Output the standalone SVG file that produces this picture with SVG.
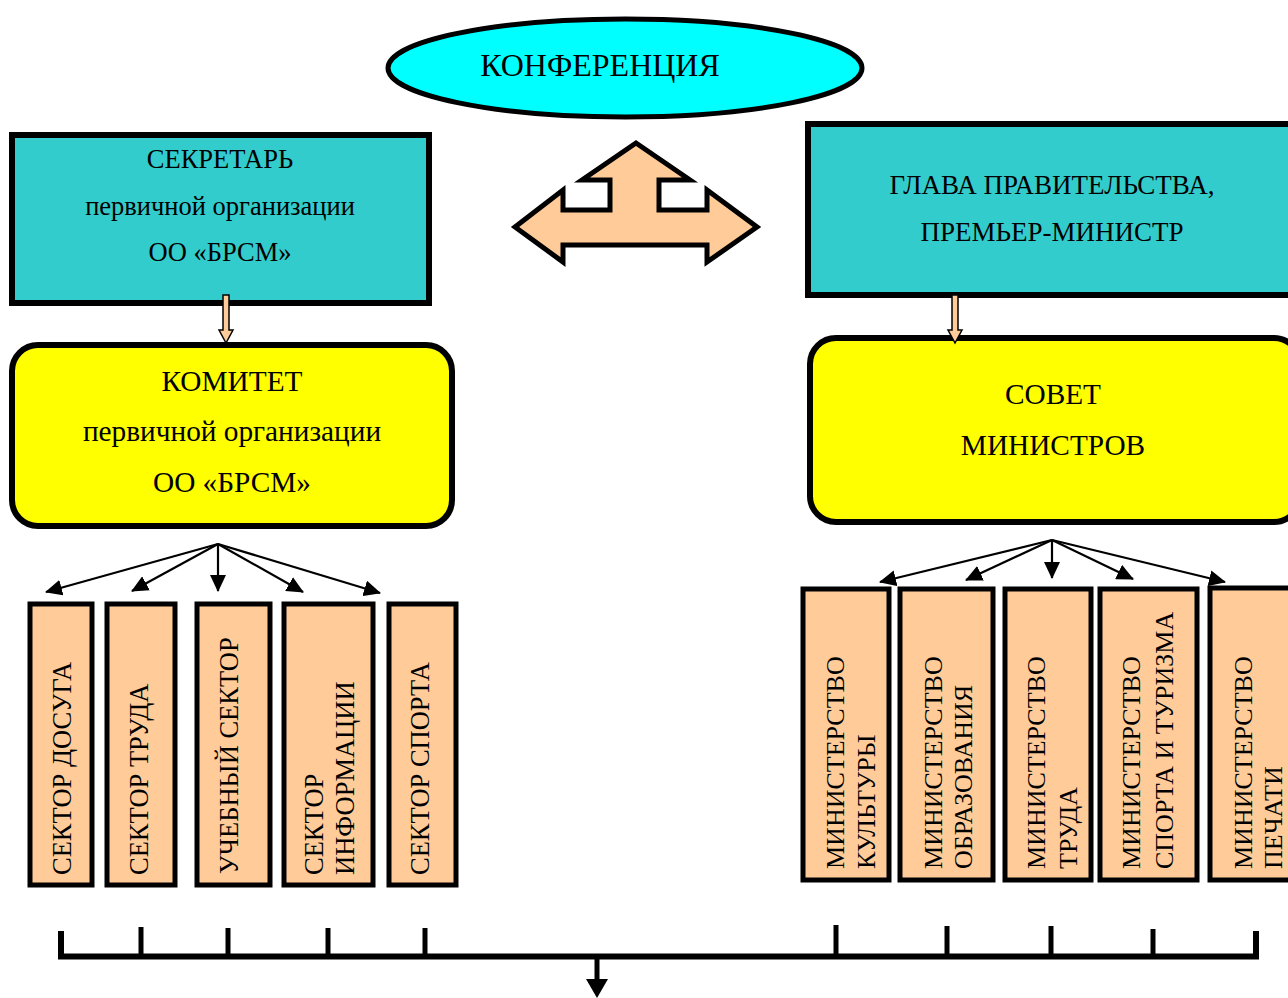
<svg xmlns="http://www.w3.org/2000/svg" width="1288" height="998" viewBox="0 0 1288 998">
<style>
text{font-family:"Liberation Serif","Times New Roman",serif;fill:#000}
.c{text-anchor:middle}
.t26{font-size:26.5px}
.t27{font-size:27px}
.t29{font-size:29.3px}
.t32{font-size:32px}
.v{font-size:26.5px;text-anchor:start}
.vr{font-size:26px;text-anchor:start}
.cyan{fill:#33CCCC;stroke:#000;stroke-width:6}
.yel{fill:#FFFF00;stroke:#000;stroke-width:6}
.peach{fill:#FFCC99;stroke:#000;stroke-width:5}
.fan{stroke:#000;stroke-width:2.2;fill:none;marker-end:url(#ah)}
</style>
<defs>
<marker id="ah" markerUnits="userSpaceOnUse" markerWidth="18" markerHeight="16" refX="16" refY="8" orient="auto">
<path d="M0,0 L17,8 L0,16 Z" fill="#000"/>
</marker>
</defs>
<rect width="1288" height="998" fill="#fff"/>

<g id="konferencia">
<ellipse cx="625" cy="68" rx="237" ry="49" fill="#00FFFF" stroke="#000" stroke-width="5"/>
<text class="c t32" x="600" y="76">КОНФЕРЕНЦИЯ</text>
</g>

<g id="big-arrow">
<polygon points="636,143 690,180 659,180 659,210 707,210 707,190 757,227 707,262 707,245 563,245 563,262 515,227 563,190 563,210 610,210 610,180 582,180" fill="#FFCC99" stroke="#000" stroke-width="5" stroke-linejoin="miter"/>
</g>

<g id="sekretar">
<rect class="cyan" x="12" y="135" width="417" height="168"/>
<text class="c t26" x="220" y="168">СЕКРЕТАРЬ</text>
<text class="c t26" x="220" y="215">первичной организации</text>
<text class="c t26" x="220" y="261">ОО «БРСМ»</text>
</g>

<g id="glava">
<rect class="cyan" x="808" y="124" width="490" height="171"/>
<text class="c t27" x="1052" y="194">ГЛАВА ПРАВИТЕЛЬСТВА,</text>
<text class="c t27" x="1052" y="241">ПРЕМЬЕР-МИНИСТР</text>
</g>

<g id="komitet">
<rect class="yel" x="12" y="345" width="440" height="181" rx="26"/>
<text class="c t29" x="232" y="391">КОМИТЕТ</text>
<text class="c t29" x="232" y="441">первичной организации</text>
<text class="c t29" x="232" y="492">ОО «БРСМ»</text>
</g>

<g id="sovet">
<rect class="yel" x="810" y="338" width="490" height="184" rx="26"/>
<text class="c t29" x="1053" y="404">СОВЕТ</text>
<text class="c t29" x="1053" y="455">МИНИСТРОВ</text>
</g>

<g id="sektor-dosuga">
<rect class="peach" x="30" y="604" width="62" height="281"/>
<text class="v" transform="translate(71,875) rotate(-90)">СЕКТОР ДОСУГА</text>
</g>
<g id="sektor-truda">
<rect class="peach" x="107" y="604" width="68" height="281"/>
<text class="v" transform="translate(148,875) rotate(-90)">СЕКТОР ТРУДА</text>
</g>
<g id="uchebny-sektor">
<rect class="peach" x="197" y="604" width="73" height="281"/>
<text class="v" transform="translate(238,874) rotate(-90)">УЧЕБНЫЙ СЕКТОР</text>
</g>
<g id="sektor-informacii">
<rect class="peach" x="284" y="604" width="89" height="281"/>
<text class="v" transform="translate(323,875) rotate(-90)">СЕКТОР</text>
<text class="v" transform="translate(354,875) rotate(-90)">ИНФОРМАЦИИ</text>
</g>
<g id="sektor-sporta">
<rect class="peach" x="389" y="604" width="67" height="281"/>
<text class="v" transform="translate(429,875) rotate(-90)">СЕКТОР СПОРТА</text>
</g>

<g id="min-kultury">
<rect class="peach" x="803" y="589" width="86" height="291"/>
<text class="vr" transform="translate(844,869) rotate(-90)">МИНИСТЕРСТВО</text>
<text class="vr" transform="translate(875,869) rotate(-90)">КУЛЬТУРЫ</text>
</g>
<g id="min-obrazovania">
<rect class="peach" x="900" y="589" width="93" height="291"/>
<text class="vr" transform="translate(942,869) rotate(-90)">МИНИСТЕРСТВО</text>
<text class="vr" transform="translate(972,869) rotate(-90)">ОБРАЗОВАНИЯ</text>
</g>
<g id="min-truda">
<rect class="peach" x="1005" y="589" width="86" height="291"/>
<text class="vr" transform="translate(1045,869) rotate(-90)">МИНИСТЕРСТВО</text>
<text class="vr" transform="translate(1077,869) rotate(-90)">ТРУДА</text>
</g>
<g id="min-sporta">
<rect class="peach" x="1100" y="589" width="97" height="291"/>
<text class="vr" transform="translate(1140,869) rotate(-90)">МИНИСТЕРСТВО</text>
<text class="vr" transform="translate(1173,869) rotate(-90)">СПОРТА И ТУРИЗМА</text>
</g>
<g id="min-pechati">
<rect class="peach" x="1210" y="588" width="90" height="292"/>
<text class="vr" transform="translate(1252,869) rotate(-90)">МИНИСТЕРСТВО</text>
<text class="vr" transform="translate(1282,869) rotate(-90)">ПЕЧАТИ</text>
</g>

<g id="connectors">
<polygon points="223,295 229,295 229,330 233,330 226,343 219,330 223,330" fill="#FFCC99" stroke="#000" stroke-width="1.5"/>
<polygon points="952,295 958,295 958,330 962,330 955,343 948,330 952,330" fill="#FFCC99" stroke="#000" stroke-width="1.5"/>
<line class="fan" x1="218" y1="544" x2="46" y2="592"/>
<line class="fan" x1="218" y1="544" x2="132" y2="591"/>
<line class="fan" x1="218" y1="544" x2="218" y2="591"/>
<line class="fan" x1="218" y1="544" x2="303" y2="592"/>
<line class="fan" x1="218" y1="544" x2="380" y2="593"/>
<line class="fan" x1="1052" y1="540" x2="880" y2="582"/>
<line class="fan" x1="1052" y1="540" x2="966" y2="580"/>
<line class="fan" x1="1052" y1="540" x2="1052" y2="578"/>
<line class="fan" x1="1052" y1="540" x2="1133" y2="579"/>
<line class="fan" x1="1052" y1="540" x2="1225" y2="582"/>
<path d="M61,931 V956.5 H1256 V931" fill="none" stroke="#000" stroke-width="6"/>
<g stroke="#000" stroke-width="5">
<line x1="141" y1="927" x2="141" y2="956"/>
<line x1="228" y1="928" x2="228" y2="956"/>
<line x1="328" y1="928" x2="328" y2="956"/>
<line x1="425" y1="928" x2="425" y2="956"/>
<line x1="836" y1="925" x2="836" y2="956"/>
<line x1="947" y1="926" x2="947" y2="956"/>
<line x1="1051" y1="926" x2="1051" y2="956"/>
<line x1="1153" y1="929" x2="1153" y2="956"/>
</g>
<line x1="597" y1="958" x2="597" y2="980" stroke="#000" stroke-width="5"/>
<polygon points="586,979 608,979 597,998" fill="#000"/>
</g>
</svg>
